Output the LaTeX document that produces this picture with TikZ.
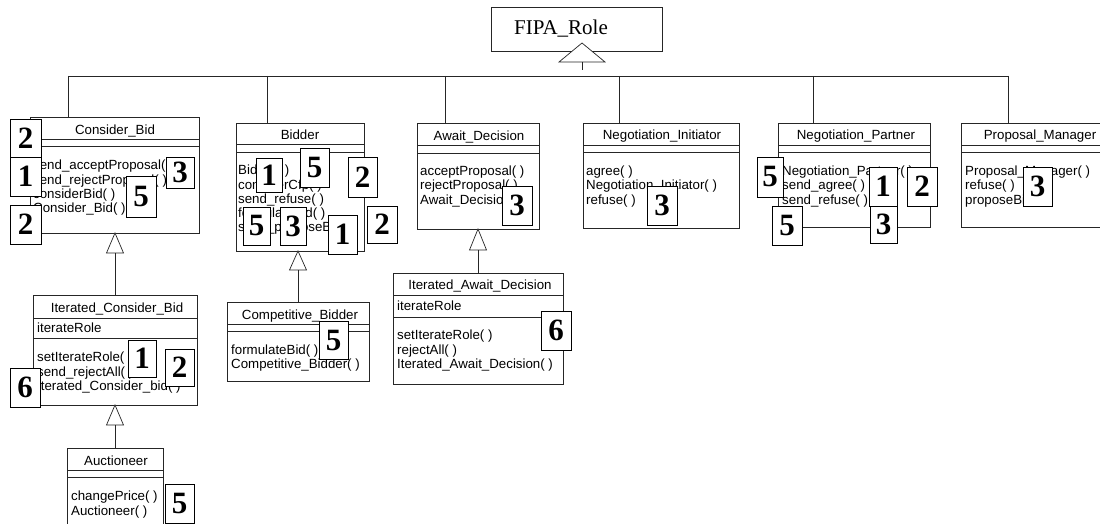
\documentclass[tikz,border=0pt]{standalone}
\usepackage{fontspec}
\setmainfont{Liberation Sans}
\newfontfamily\bdgfont{Liberation Serif}
\usetikzlibrary{calc}
\tikzset{
 cls/.style={draw=black!85, line width=0.7pt, inner sep=0pt, anchor=north west},
 ttl/.style={font=\fontsize{13.3}{14.3}\selectfont, inner sep=0pt, anchor=base},
 ops/.style={font=\fontsize{13.3}{14.3}\selectfont, inner sep=0pt, anchor=base west, align=left},
 badge/.style={draw=black, fill=white, line width=0.9pt, inner sep=0pt, font=\fontsize{31}{31}\selectfont\bdgfont\bfseries},
 rel/.style={draw=black!85, line width=0.7pt},
 tri/.style={draw=black!85, line width=0.7pt, fill=white},
}
\newcommand\umlbox[5]{\node[cls, minimum width={#4-#2}, minimum height={#5-#3}] (#1) at (#2,#3) {};}
\newcommand\hsep[3]{\draw[rel] (#1,#3) -- (#2,#3);}
\newcommand\bdg[6]{\node[badge, minimum width={#4-#2}, minimum height={#5-#3}] (#1) at ({(#2+#4)/2},{(#3+#5)/2}) {#6};}
\begin{document}
\begin{tikzpicture}[x=1pt,y=-1pt]
\useasboundingbox (0,0) rectangle (1100,524);
\clip (0,0) rectangle (1100,524);
\fill[white] (0,0) rectangle (1100,524);

% FIPA_Role
\umlbox{fipa}{491}{7}{662}{51}
\node[inner sep=0pt, anchor=base, font=\fontsize{21}{21}\selectfont\bdgfont] (fipat) at (561,35) {FIPA\_Role};

% Consider_Bid (ops nodes are placed at the baseline of their last line)
\umlbox{cb}{30}{117}{199}{233}
\hsep{30}{199}{139}\hsep{30}{199}{146}
\node[ttl] (cbt) at (115,134.7) {Consider\_Bid};
\node[ops] (cbo) at (33,212.6) {send\_acceptProposal( )\\send\_rejectProposal( )\\considerBid( )\\Consider\_Bid( )};

% Bidder
\umlbox{bd}{236}{123}{364}{251}
\hsep{236}{364}{144}\hsep{236}{364}{152}
\node[ttl] (bdt) at (300,139.7) {Bidder};
\node[ops] (bdo) at (238,231.9) {Bidder( )\\considerCfp( )\\send\_refuse( )\\formulateBid( )\\send\_proposeBid( )};

% Await_Decision
\umlbox{ad}{417}{123}{539}{229}
\hsep{417}{539}{145}\hsep{417}{539}{153}
\node[ttl] (adt) at (479,140.5) {Await\_Decision};
\node[ops] (ado) at (420,204.3) {acceptProposal( )\\rejectProposal( )\\Await\_Decision( )};

% Negotiation_Initiator
\umlbox{ni}{583}{123}{739}{228}
\hsep{583}{739}{145}\hsep{583}{739}{152}
\node[ttl] (nit) at (662,139.7) {Negotiation\_Initiator};
\node[ops] (nio) at (586,204.3) {agree( )\\Negotiation\_Initiator( )\\refuse( )};

% Negotiation_Partner
\umlbox{np}{778}{123}{930}{227}
\hsep{778}{930}{145}\hsep{778}{930}{152}
\node[ttl] (npt) at (856,139.7) {Negotiation\_Partner};
\node[ops] (npo) at (782,204.3) {Negotiation\_Partner( )\\send\_agree( )\\send\_refuse( )};

% Proposal_Manager
\umlbox{pm}{961}{123}{1120}{227}
\hsep{961}{1120}{145}\hsep{961}{1120}{152}
\node[ttl] (pmt) at (1040,139.7) {Proposal\_Manager};
\node[ops] (pmo) at (965,204.3) {Proposal\_Manager( )\\refuse( )\\proposeBid( )};

% Iterated_Consider_Bid
\umlbox{icb}{33}{295}{197}{405}
\hsep{33}{197}{318}\hsep{33}{197}{338}
\node[ttl] (icbt) at (117,312.7) {Iterated\_Consider\_Bid};
\node[ops] (icba) at (37,332.7) {iterateRole};
\node[ops] (icbo) at (37,390.3) {setIterateRole( )\\send\_rejectAll( )\\Iterated\_Consider\_bid( )};

% Auctioneer
\umlbox{au}{67}{448}{163}{540}
\hsep{67}{163}{470}\hsep{67}{163}{477}
\node[ttl] (aut) at (116,465.7) {Auctioneer};
\node[ops] (auo) at (71,515) {changePrice( )\\Auctioneer( )};

% Competitive_Bidder
\umlbox{cpb}{227}{302}{369}{381}
\hsep{227}{369}{324}\hsep{227}{369}{331}
\node[ttl] (cpbt) at (300,319.7) {Competitive\_Bidder};
\node[ops] (cpbo) at (231,368.3) {formulateBid( )\\Competitive\_Bidder( )};

% Iterated_Await_Decision
\umlbox{iad}{393}{273}{563}{384}
\hsep{393}{563}{295}\hsep{393}{563}{317}
\node[ttl] (iadt) at (480,289.7) {Iterated\_Await\_Decision};
\node[ops] (iada) at (397,310.7) {iterateRole};
\node[ops] (iado) at (397,368.3) {setIterateRole( )\\rejectAll( )\\Iterated\_Await\_Decision( )};

% generalisation to FIPA_Role
\coordinate (fb) at (582,62);
\coordinate (fs) at (582,70);
\draw[tri] (582,43) -- (559,62) -- (605,62) -- cycle;
\draw[rel] (fb) -- (fs);
\coordinate (busL) at (68,76);
\coordinate (busR) at (1008,76);
\coordinate (d2) at (267,76);
\coordinate (d3) at (445,76);
\coordinate (d4) at (619,76);
\coordinate (d5) at (813,76);
\draw[rel] (busL) -- (busR);
\draw[rel] (busL) -- (busL |- cb.north);
\draw[rel] (d2) -- (d2 |- bd.north);
\draw[rel] (d3) -- (d3 |- ad.north);
\draw[rel] (d4) -- (d4 |- ni.north);
\draw[rel] (d5) -- (d5 |- np.north);
\draw[rel] (busR) -- (busR |- pm.north);

% other generalisations
\coordinate (g1) at (115,253);
\draw[tri] (115,233) -- (106.5,253) -- (123.5,253) -- cycle;
\draw[rel] (g1) -- (icb.north -| g1);
\coordinate (g2) at (115,425);
\draw[tri] (115,405) -- (106.5,425) -- (123.5,425) -- cycle;
\draw[rel] (g2) -- (au.north -| g2);
\coordinate (g3) at (478,250);
\draw[tri] (478,229) -- (469.5,250) -- (486.5,250) -- cycle;
\draw[rel] (g3) -- (iad.north -| g3);
\coordinate (g4) at (298,270);
\draw[tri] (298,251) -- (289.5,270) -- (306.5,270) -- cycle;
\draw[rel] (g4) -- (cpb.north -| g4);

% badges
\bdg{b1}{10}{119}{41}{157}{2}
\bdg{b2}{10}{157}{41}{196}{1}
\bdg{b3}{166}{157}{194}{188}{3}
\bdg{b4}{126}{176}{156}{217}{5}
\bdg{b5}{10}{205}{41}{244}{2}
\bdg{b6}{256}{158}{282}{192}{1}
\bdg{b7}{300}{148}{329}{187}{5}
\bdg{b8}{348}{157}{377}{197}{2}
\bdg{b9}{243}{207}{270}{245}{5}
\bdg{b10}{280}{207}{306}{245}{3}
\bdg{b11}{328}{215}{357}{254}{1}
\bdg{b12}{367}{206}{397}{243}{2}
\bdg{b13}{502}{186}{532}{225}{3}
\bdg{b14}{647}{186}{677}{225}{3}
\bdg{b15}{757}{157}{783}{197}{5}
\bdg{b16}{869}{167}{897}{206}{1}
\bdg{b17}{907}{167}{937}{206}{2}
\bdg{b18}{772}{206}{802}{245}{5}
\bdg{b19}{870}{206}{897}{243}{3}
\bdg{b20}{1023}{167}{1052}{206}{3}
\bdg{b21}{128}{340}{156}{377}{1}
\bdg{b22}{165}{349}{194}{386}{2}
\bdg{b23}{10}{368}{40}{407}{6}
\bdg{b24}{319}{321}{348}{359}{5}
\bdg{b25}{541}{311}{571}{350}{6}
\bdg{b26}{165}{484}{194}{523}{5}
\end{tikzpicture}
\end{document}
